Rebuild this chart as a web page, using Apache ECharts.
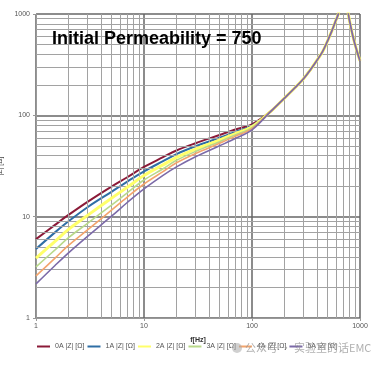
<!DOCTYPE html>
<html><head><meta charset="utf-8">
<script src="https://cdn.jsdelivr.net/npm/echarts@6/dist/echarts.min.js"></script>
<style>html,body{margin:0;padding:0;background:#fff}#c{width:380px;height:371px}</style>
</head><body><div id="c"></div><script>
// ---- data ----
const FREQ_LOW = [1, 1.5, 2, 3, 5, 7, 10, 15, 20, 30, 50, 70, 100];
const Z_0A = [6.0, 8.3, 10.4, 14.0, 19.8, 24.5, 31, 38.6, 45, 53, 64, 72.5, 81.5];
const Z_1A = [4.8, 7.0, 9.0, 12.4, 17.6, 22.2, 28, 35.3, 41.5, 49.5, 60, 68.5, 79];
const Z_2A = [3.9, 5.7, 7.5, 10.3, 15.2, 19.5, 25.5, 32.4, 38.5, 46.5, 57, 66, 77];
const Z_3A = [3.2, 4.7, 6.2, 8.6, 13.0, 17.2, 23, 29.7, 36, 44, 55, 64, 75.5];
const Z_4A = [2.6, 3.9, 5.2, 7.4, 11.6, 15.6, 21, 27.8, 34, 42, 53, 62, 74];
const Z_5A = [2.17, 3.3, 4.4, 6.4, 10.1, 13.8, 18.8, 25.6, 31, 39, 50, 59, 72];
const FREQ_HIGH = [150, 200, 250, 300, 350, 400, 450, 500, 550, 600, 630, 680, 720, 760, 780, 820, 860, 920, 1000];
const Z_HIGH = [110, 148, 187, 230, 285, 350, 425, 540, 685, 875, 1000, 1600, 2300, 1500, 1000, 760, 600, 460, 345];
const SERIES_NAMES = ['0A |Z| [Ω]', '1A |Z| [Ω]', '2A |Z| [Ω]', '3A |Z| [Ω]', '4A |Z| [Ω]', '5A |Z| [Ω]'];
const MINOR_X = [2,3,4,5,6,7,8,9,20,30,40,50,60,70,80,90,200,300,400,500,600,700,800,900];
const MINOR_Y = [2,3,4,5,6,7,8,9,20,30,40,50,60,70,80,90,200,300,400,500,600,700,800,900];
const TITLE = 'Initial Permeability = 750';

// ---- styles ----
const COLORS = ['#8b1a38', '#2f6ea5', '#ffff6a', '#b9d98a', '#f3a46c', '#7c6aa8'];
const WIDTHS = [2, 2, 3, 1.6, 1.6, 1.6];

const allLists = [Z_0A, Z_1A, Z_2A, Z_3A, Z_4A, Z_5A];
const freqs = FREQ_LOW.concat(FREQ_HIGH);
const series = [{
  type: 'line', name: 'grid', data: [], silent: true, z: 1,
  markLine: {
    silent: true, symbol: ['none', 'none'], animation: false,
    label: {show: false},
    lineStyle: {color: '#a2a2a2', width: 1, type: 'solid'},
    emphasis: {disabled: true},
    data: MINOR_X.map(v => ({xAxis: v})).concat(MINOR_Y.map(v => ({yAxis: v})))
  }
}];
allLists.forEach((arr, i) => {
  const vals = arr.concat(Z_HIGH);
  series.push({
    type: 'line', name: SERIES_NAMES[i], z: 3 + i,
    data: freqs.map((f, k) => [f, vals[k]]),
    showSymbol: false, smooth: 0.35, clip: true,
    lineStyle: {color: COLORS[i], width: WIDTHS[i]},
    itemStyle: {color: COLORS[i]}
  });
});

const fmt = v => String(Math.round(v));
const chart = echarts.init(document.getElementById('c'), null, {renderer: 'canvas'});
chart.setOption({
  animation: false,
  backgroundColor: '#fff',
  title: {
    text: TITLE, left: 52, top: 30, padding: 0,
    textStyle: {fontSize: 18, fontWeight: 'bold', color: '#000', fontFamily: 'Liberation Sans'}
  },
  grid: {left: 36, right: 20, top: 14, bottom: 53, containLabel: false, outerBoundsMode: 'none'},
  legend: {
    data: SERIES_NAMES, left: 37, top: 343, padding: 0, icon: 'rect', itemWidth: 13, itemHeight: 2,
    itemGap: 3, textStyle: {fontSize: 7, color: '#555', fontFamily: 'Liberation Sans'}
  },
  xAxis: {
    type: 'log', logBase: 10, min: 1, max: 1000,
    name: 'f[Hz]', nameLocation: 'middle', nameGap: 19,
    nameTextStyle: {fontSize: 7, fontWeight: 'bold', color: '#333', fontFamily: 'Liberation Sans'},
    axisLine: {lineStyle: {color: '#999'}},
    axisTick: {show: true, length: 3, lineStyle: {color: '#999'}},
    axisLabel: {fontSize: 7, color: '#555', margin: 5, fontFamily: 'Liberation Sans', formatter: fmt},
    splitLine: {show: true, lineStyle: {color: '#666', width: 1.5}}
  },
  yAxis: {
    type: 'log', logBase: 10, min: 1, max: 1000,
    name: '|Z| [Ω]', nameLocation: 'middle', nameGap: 21, nameRotate: 90,
    nameTextStyle: {fontSize: 7, color: '#444', fontFamily: 'Liberation Sans'},
    axisLine: {lineStyle: {color: '#999'}},
    axisTick: {show: true, length: 3, lineStyle: {color: '#999'}},
    axisLabel: {fontSize: 7, color: '#555', margin: 6, fontFamily: 'Liberation Sans', formatter: fmt},
    splitLine: {show: true, lineStyle: {color: '#666', width: 1.5}}
  },
  graphic: [
    {type: 'circle', shape: {cx: 237, cy: 348, r: 5}, style: {fill: 'rgba(170,170,170,0.55)'}, z: 100},
    {type: 'text', x: 245, y: 342, z: 100,
     style: {text: '公众号 · 实验室的话EMC', fontSize: 11, fill: 'rgba(150,150,150,0.75)', fontFamily: 'Noto Sans CJK SC'}}
  ],
  series: series
});
</script></body></html>
